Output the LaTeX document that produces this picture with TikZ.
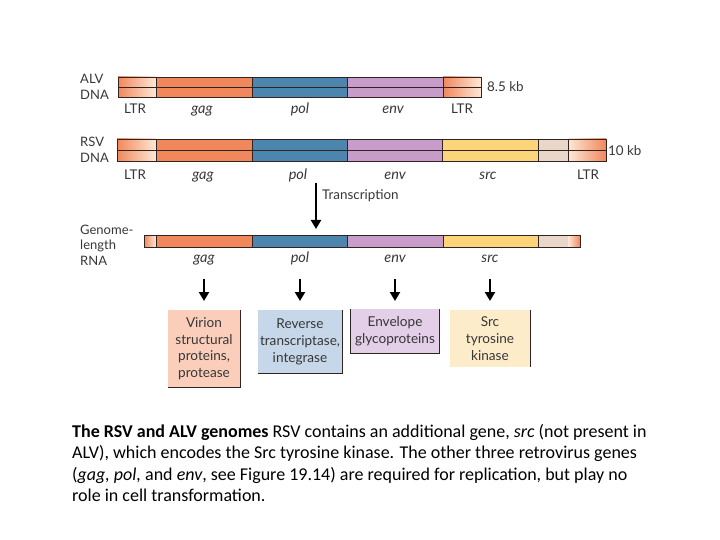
\documentclass[tikz,border=0pt]{standalone}
\usepackage{fontspec}
\setmainfont{Carlito}
\newfontfamily\figfont{Lato}
\usetikzlibrary{arrows.meta}
\definecolor{gagc}{RGB}{241,136,92}
\definecolor{polc}{RGB}{76,134,174}
\definecolor{envc}{RGB}{200,156,200}
\definecolor{srcc}{RGB}{252,213,122}
\definecolor{beigec}{RGB}{233,215,202}
\definecolor{ltrpale}{RGB}{253,232,214}
\definecolor{barline}{RGB}{50,35,35}
\definecolor{labtext}{RGB}{55,55,55}
\definecolor{virfill}{RGB}{250,206,186}
\definecolor{rtfill}{RGB}{198,215,233}
\definecolor{envfill}{RGB}{227,207,231}
\definecolor{srcfill}{RGB}{253,236,202}
\tikzstyle{bar} = [draw=barline, line width=0.8pt]
\tikzstyle{lbl} = [inner sep=0pt, anchor=base, text=labtext, font=\figfont\fontsize{13.4}{16}\selectfont]
\tikzstyle{gene} = [inner sep=0pt, anchor=base, text=labtext, font=\figfont\itshape\fontsize{14.5}{16}\selectfont]
\tikzstyle{side} = [inner sep=0pt, text=labtext, align=left, font=\figfont\fontsize{13}{15.5}\selectfont]
\tikzstyle{prot} = [rectangle, anchor=north, inner sep=0pt, align=center, text=labtext, font=\figfont\fontsize{13.6}{16.7}\selectfont]
\tikzstyle{shadow} = [draw=barline, line width=1pt]
\tikzstyle{arrow} = [line width=2.4pt, -{Triangle[width=10pt,length=9pt]}]

\begin{document}
\begin{tikzpicture}[x=1pt, y=-1pt]
\useasboundingbox (0,0) rectangle (720,540);

% ALV DNA
\shade [left color=gagc, right color=ltrpale] (118,77) rectangle (156,97);
\fill [gagc] (156,77) rectangle (252,97);
\fill [polc] (252,77) rectangle (347,97);
\fill [envc] (347,77) rectangle (443,97);
\shade [left color=gagc, right color=ltrpale] (443,77) rectangle (481,97);
\draw [bar] (118,77) rectangle (481,97);
\draw [bar] (118,87) -- (481,87);
\draw [bar] (156,77) -- (156,97);
\draw [bar] (252,77) -- (252,97);
\draw [bar] (347,77) -- (347,97);
\draw [bar] (443,77) -- (443,97);

\node (alv) [side, anchor=west] at (80,87) {ALV\\DNA};
\node (alvsize) [lbl, anchor=west] at (487,87) {8.5 kb};
\node (altr1) [lbl] at (135,114) {LTR};
\node (agag) [gene] at (202,114) {gag};
\node (apol) [gene] at (300,114) {pol};
\node (aenv) [gene] at (393,114) {env};
\node (altr2) [lbl] at (462,114) {LTR};

% RSV DNA
\shade [left color=gagc, right color=ltrpale] (117,139) rectangle (156,161);
\fill [gagc] (156,139) rectangle (252,161);
\fill [polc] (252,139) rectangle (347,161);
\fill [envc] (347,139) rectangle (442,161);
\fill [srcc] (442,139) rectangle (538,161);
\fill [beigec] (538,139) rectangle (568,161);
\shade [left color=ltrpale, right color=gagc] (568,139) rectangle (606,161);
\draw [bar] (117,139) rectangle (606,161);
\draw [bar] (117,150) -- (606,150);
\draw [bar] (156,139) -- (156,161);
\draw [bar] (252,139) -- (252,161);
\draw [bar] (347,139) -- (347,161);
\draw [bar] (442,139) -- (442,161);
\draw [bar] (538,139) -- (538,161);
\draw [bar] (568,139) -- (568,161);

\node (rsv) [side, anchor=west] at (80,150) {RSV\\DNA};
\node (rsvsize) [lbl, anchor=west] at (608,151) {10 kb};
\node (rltr1) [lbl] at (135,180) {LTR};
\node (rgag) [gene] at (203,180) {gag};
\node (rpol) [gene] at (298,180) {pol};
\node (renv) [gene] at (395,180) {env};
\node (rsrc) [gene] at (488,180) {src};
\node (rltr2) [lbl] at (588,180) {LTR};

% transcription
\coordinate (tstart) at (316,183);
\coordinate (tend) at (316,229);
\draw [arrow, line width=2.8pt] (tstart) -- (tend);
\node (transc) [lbl, anchor=west] at (322,196) {Transcription};

% genome-length RNA
\shade [left color=gagc, right color=ltrpale] (144,235) rectangle (156,247);
\fill [gagc] (156,235) rectangle (252,247);
\fill [polc] (252,235) rectangle (347,247);
\fill [envc] (347,235) rectangle (443,247);
\fill [srcc] (443,235) rectangle (538,247);
\fill [beigec] (538,235) rectangle (568,247);
\shade [left color=ltrpale, right color=gagc] (568,235) rectangle (580,247);
\draw [bar] (144,235) rectangle (580,247);
\draw [bar] (156,235) -- (156,247);
\draw [bar] (252,235) -- (252,247);
\draw [bar] (347,235) -- (347,247);
\draw [bar] (443,235) -- (443,247);
\draw [bar] (538,235) -- (538,247);

\node (rna) [side, anchor=west] at (80,245) {Genome-\\length\\RNA};
\node (ngag) [gene] at (204,262) {gag};
\node (npol) [gene] at (300,262) {pol};
\node (nenv) [gene] at (395,262) {env};
\node (nsrc) [gene] at (490,262) {src};

% protein boxes
\node (virion) [prot, fill=virfill, minimum width=72pt, minimum height=77pt] at (204,310) {Virion\\structural\\proteins,\\protease};
\node (revtr) [prot, fill=rtfill, minimum width=84pt, minimum height=63pt] at (300,310) {Reverse\\transcriptase,\\integrase};
\node (envgp) [prot, fill=envfill, minimum width=89pt, minimum height=44pt] at (395,309) {Envelope\\glycoproteins};
\node (srck) [prot, fill=srcfill, minimum width=80pt, minimum height=57pt] at (490,310) {Src\\tyrosine\\kinase};

\draw [shadow] (virion.north east) -- (virion.south east) -- (virion.south west);
\draw [shadow] (revtr.north east) -- (revtr.south east) -- (revtr.south west);
\draw [shadow] (envgp.north west) -- (envgp.south west) -- (envgp.south east) -- (envgp.north east);
\draw [shadow] (srck.north east) -- (srck.south east);

\draw [arrow] ([yshift=-17pt]ngag.base) -- ([yshift=9pt]virion.north);
\draw [arrow] ([yshift=-17pt]npol.base) -- ([yshift=9pt]revtr.north);
\draw [arrow] ([yshift=-17pt]nenv.base) -- ([yshift=8pt]envgp.north);
\draw [arrow] ([yshift=-17pt]nsrc.base) -- ([yshift=9pt]srck.north);

% caption
\node (caption) [anchor=north west, align=left, inner sep=0pt, font=\fontsize{18}{21.5}\selectfont] at (72,424)
{\textbf{The RSV and ALV genomes} RSV contains an additional gene, \textit{src} (not present in\\
ALV), which encodes the Src tyrosine kinase. The other three retrovirus genes\\
(\textit{gag, pol,} and \textit{env}, see Figure 19.14) are required for replication, but play no\\
role in cell transformation.};

\end{tikzpicture}
\end{document}
